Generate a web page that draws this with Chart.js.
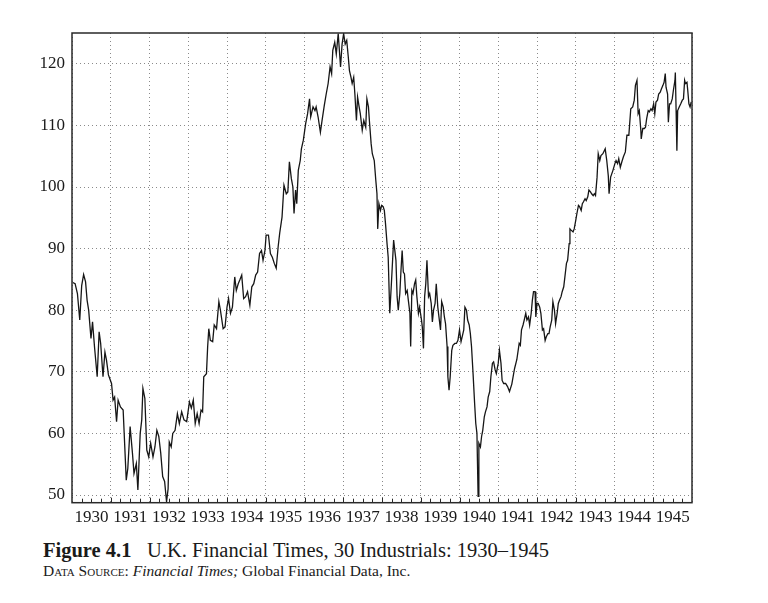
<!DOCTYPE html>
<html>
<head>
<meta charset="utf-8">
<script src="https://cdn.jsdelivr.net/npm/chart.js@4.4.1/dist/chart.umd.min.js"></script>
<style>
  body { margin: 0; background: #fff; width: 768px; height: 603px; position: relative; overflow: hidden;
         font-family: "Liberation Serif", "DejaVu Serif", serif; color: #1a1a1a; }
  #wrap { position: absolute; left: 0; top: 0; width: 768px; height: 530px; }
  .cap { position: absolute; white-space: nowrap; line-height: 1; }
  #figno { left: 43px; top: 540px; font-size: 20.5px; font-weight: bold; }
  #title { left: 147px; top: 540px; font-size: 20.5px; }
  #source { left: 43px; top: 563px; font-size: 15.5px; }
  #source .sc { font-variant: small-caps; }
</style>
</head>
<body>
<div id="wrap"><canvas id="ftChart" width="768" height="530"></canvas></div>
<div class="cap" id="figno">Figure 4.1</div>
<div class="cap" id="title">U.K. Financial Times, 30 Industrials: 1930–1945</div>
<div class="cap" id="source"><span class="sc">Data Source:</span> <i>Financial Times;</i> Global Financial Data, Inc.</div>
<script>
// decimal years and index levels
const dates = [
  1930.02, 1930.08, 1930.14, 1930.2, 1930.25, 1930.3, 1930.35, 1930.39, 1930.43, 1930.49,
  1930.53, 1930.58, 1930.65, 1930.7, 1930.74, 1930.8, 1930.85, 1930.89, 1930.94, 1931.02,
  1931.06, 1931.1, 1931.15, 1931.19, 1931.25, 1931.32, 1931.4, 1931.44, 1931.5, 1931.56,
  1931.6, 1931.66, 1931.7, 1931.76, 1931.8, 1931.83, 1931.88, 1931.93, 1931.98, 1932.03,
  1932.09, 1932.14, 1932.19, 1932.24, 1932.29, 1932.34, 1932.39, 1932.44, 1932.48, 1932.51,
  1932.56, 1932.6, 1932.66, 1932.72, 1932.77, 1932.83, 1932.89, 1932.96, 1933.03, 1933.08,
  1933.13, 1933.18, 1933.23, 1933.28, 1933.33, 1933.37, 1933.4, 1933.47, 1933.5, 1933.53,
  1933.57, 1933.63, 1933.67, 1933.73, 1933.79, 1933.83, 1933.9, 1933.95, 1934.0, 1934.04,
  1934.09, 1934.14, 1934.2, 1934.24, 1934.29, 1934.33, 1934.38, 1934.43, 1934.48, 1934.53,
  1934.59, 1934.64, 1934.69, 1934.74, 1934.79, 1934.84, 1934.89, 1934.93, 1934.98, 1935.01,
  1935.07, 1935.12, 1935.17, 1935.22, 1935.27, 1935.32, 1935.36, 1935.42, 1935.47, 1935.53,
  1935.57, 1935.61, 1935.66, 1935.7, 1935.73, 1935.77, 1935.8, 1935.84, 1935.89, 1935.92,
  1935.97, 1936.03, 1936.08, 1936.13, 1936.16, 1936.22, 1936.27, 1936.3, 1936.35, 1936.41,
  1936.46, 1936.51, 1936.56, 1936.61, 1936.66, 1936.7, 1936.73, 1936.78, 1936.82, 1936.87,
  1936.9, 1936.93, 1936.97, 1937.01, 1937.05, 1937.09, 1937.13, 1937.16, 1937.2, 1937.23,
  1937.27, 1937.3, 1937.34, 1937.37, 1937.41, 1937.44, 1937.49, 1937.53, 1937.58, 1937.61,
  1937.65, 1937.68, 1937.72, 1937.75, 1937.8, 1937.84, 1937.87, 1937.89, 1937.92, 1937.96,
  1937.99, 1938.03, 1938.06, 1938.09, 1938.13, 1938.16, 1938.2, 1938.24, 1938.3, 1938.36,
  1938.39, 1938.42, 1938.46, 1938.49, 1938.52, 1938.55, 1938.58, 1938.61, 1938.65, 1938.68,
  1938.72, 1938.74, 1938.77, 1938.8, 1938.84, 1938.87, 1938.9, 1938.94, 1938.97, 1939.02,
  1939.04, 1939.07, 1939.1, 1939.13, 1939.16, 1939.2, 1939.23, 1939.27, 1939.3, 1939.33,
  1939.37, 1939.4, 1939.44, 1939.47, 1939.51, 1939.54, 1939.58, 1939.61, 1939.64, 1939.68,
  1939.7, 1939.73, 1939.76, 1939.8, 1939.83, 1939.88, 1939.92, 1939.96, 1940.0, 1940.04,
  1940.07, 1940.11, 1940.14, 1940.18, 1940.21, 1940.25, 1940.28, 1940.31, 1940.35, 1940.39,
  1940.42, 1940.45, 1940.48, 1940.5, 1940.54, 1940.57, 1940.6, 1940.64, 1940.67, 1940.71,
  1940.74, 1940.78, 1940.81, 1940.85, 1940.88, 1940.92, 1940.95, 1941.0, 1941.03, 1941.07,
  1941.1, 1941.14, 1941.19, 1941.24, 1941.29, 1941.35, 1941.42, 1941.48, 1941.54, 1941.57,
  1941.6, 1941.64, 1941.67, 1941.71, 1941.74, 1941.78, 1941.81, 1941.85, 1941.88, 1941.91,
  1941.95, 1941.97, 1942.0, 1942.03, 1942.07, 1942.1, 1942.14, 1942.17, 1942.21, 1942.24,
  1942.28, 1942.31, 1942.34, 1942.38, 1942.41, 1942.45, 1942.48, 1942.52, 1942.55, 1942.58,
  1942.62, 1942.65, 1942.69, 1942.72, 1942.76, 1942.79, 1942.83, 1942.85, 1942.88, 1942.93,
  1942.96, 1943.0, 1943.03, 1943.07, 1943.1, 1943.14, 1943.17, 1943.2, 1943.24, 1943.27,
  1943.31, 1943.34, 1943.38, 1943.41, 1943.45, 1943.48, 1943.51, 1943.55, 1943.58, 1943.62,
  1943.65, 1943.7, 1943.76, 1943.8, 1943.84, 1943.86, 1943.9, 1943.96, 1944.01, 1944.04,
  1944.08, 1944.11, 1944.15, 1944.19, 1944.23, 1944.28, 1944.32, 1944.37, 1944.42, 1944.47,
  1944.51, 1944.54, 1944.58, 1944.61, 1944.64, 1944.68, 1944.69, 1944.73, 1944.77, 1944.8,
  1944.83, 1944.87, 1944.9, 1944.94, 1944.97, 1945.01, 1945.04, 1945.07, 1945.11, 1945.14,
  1945.18, 1945.21, 1945.25, 1945.28, 1945.31, 1945.33, 1945.37, 1945.39, 1945.42, 1945.45,
  1945.49, 1945.52, 1945.56, 1945.57, 1945.59, 1945.61, 1945.63, 1945.67, 1945.71, 1945.75,
  1945.78, 1945.81, 1945.83, 1945.87, 1945.89, 1945.92, 1945.95, 1945.98
];
const ftIndex = [
  84.5, 84.3, 82.7, 78.4, 84, 85.8, 84.6, 81.6, 80, 75.4,
  78.1, 74.1, 69.2, 76.5, 74.6, 69.2, 73.2, 71.9, 69.5, 68.1,
  65.4, 65.9, 61.9, 65.4, 64.3, 63.8, 52.4, 54.3, 61.1, 56.8,
  53.5, 55.1, 50.8, 60, 62.2, 67.3, 65.7, 57.3, 56.2, 58.4,
  56.2, 57.8, 60.5, 59.5, 56.8, 53, 52.2, 48.9, 51, 58.6,
  57.8, 60, 60.5, 63.2, 61.6, 63.5, 62.2, 61.9, 65.1, 64.1,
  65.4, 61.6, 63.2, 61.6, 63.8, 63.5, 69.2, 69.7, 74, 77,
  75.1, 74.9, 77.6, 77, 81.4, 80, 77, 77.3, 80.5, 81.9,
  79.5, 80.5, 85.4, 83.2, 84.3, 84.9, 85.7, 81.9, 82.2, 83,
  80.8, 83.8, 84.3, 85.7, 86.2, 89.2, 89.7, 88.1, 89.7, 92.2,
  92.2, 89.2, 88.6, 87.6, 86.8, 90.3, 92.5, 95.1, 100.3, 98.9,
  99.2, 104.1, 101.4, 100, 95.7, 99.5, 97.3, 102.7, 104.3, 106.2,
  107.6, 110.3, 111.9, 114.3, 111.4, 113, 112.4, 113, 111.4, 108.9,
  111.1, 113.2, 115.1, 116.8, 119.5, 118.4, 122.2, 123.5, 121.6, 124.9,
  122.2, 119.5, 123.2, 124.9, 123.2, 123.8, 121.1, 118.9, 117.8, 116.8,
  117.8, 115.1, 110.8, 114.6, 113, 111.9, 109.2, 110.8, 109.7, 114.3,
  113, 110.3, 107, 105.4, 104.3, 101.1, 98.9, 93.2, 97.3, 96.2,
  97, 96.8, 96.2, 94.1, 90.8, 88.6, 79.5, 84, 91.4, 88.1,
  82.2, 80, 82.7, 86.5, 89.7, 86.2, 85.9, 82.7, 83.2, 81.6,
  79.5, 74.1, 83.2, 82.7, 84.3, 84.9, 82.2, 79.5, 80.5, 78.4,
  77.3, 73.8, 82.2, 84.3, 88.1, 82.2, 82.7, 81.1, 78.1, 80,
  81.1, 84.3, 80.5, 78.9, 76.8, 81.4, 80.5, 78.9, 77.8, 74.1,
  69.2, 67, 69.2, 73.5, 74.3, 74.6, 74.6, 75.1, 76.8, 74.9,
  75.7, 76.8, 80.5, 80, 78.4, 77.6, 76.2, 74.1, 69.7, 64.9,
  61.6, 60, 49.8, 58.4, 57.8, 59.5, 60.5, 62.7, 63.5, 64.3,
  65.9, 66.8, 69.2, 71.4, 71.6, 70.3, 69.7, 71.4, 73.5, 71.4,
  68.6, 68.1, 68.1, 67.6, 66.8, 68, 70.5, 72, 74.6, 74.3,
  76.8, 77.6, 78.4, 79.5, 78.4, 78.9, 77.6, 79.5, 81.6, 83,
  83, 78.9, 81.1, 81.1, 80.5, 79.5, 76.8, 77, 75.1, 75.7,
  76.2, 76.2, 77.3, 78.4, 81.4, 80, 77.8, 79.5, 81.1, 81.6,
  82.2, 83, 83.8, 85.4, 87.6, 88.1, 90.8, 93.2, 93, 92.7,
  93.2, 94.6, 95.7, 97, 96.8, 96.2, 97.3, 97.6, 98.1, 97.8,
  98.4, 99.5, 99.2, 98.9, 98.6, 98.9, 98.6, 101.6, 105.4, 104.3,
  105.1, 105.4, 106.2, 104.3, 101.8, 98.9, 101.6, 102.7, 103.8, 104.3,
  103.8, 104.6, 103.2, 104.1, 104.9, 105.7, 108.4, 108.4, 112.7, 113,
  114.1, 116.5, 117.3, 111.9, 112.4, 109.2, 107.8, 109.5, 109.5, 109.7,
  111.1, 112.4, 112.2, 112.7, 112.4, 113.5, 111.9, 113.8, 114.1, 115.1,
  115.4, 115.9, 116.5, 117, 118.4, 116.2, 115.1, 110.5, 113.5, 113.5,
  114.3, 115.7, 117.3, 118.6, 112.4, 105.9, 112.4, 113, 113.5, 114.1,
  114.3, 117.3, 116.8, 117, 115.7, 113.5, 113, 113.8
];
const yearLabels = ['1930', '1931', '1932', '1933', '1934', '1935', '1936', '1937',
                    '1938', '1939', '1940', '1941', '1942', '1943', '1944', '1945'];
const yTicks = [50, 60, 70, 80, 90, 100, 110, 120];

const firstYear = 1930;
const lastYear = 1946;
const quarterTicks = [];
for (let q = firstYear * 4; q <= lastYear * 4; q++) quarterTicks.push(q / 4);

const tickFont = { family: 'Liberation Serif', size: 17 };

// frame round the plot and small quarter ticks inside the bottom edge
const framePlugin = {
  id: 'frame',
  afterDraw(chart) {
    const { ctx, chartArea: a } = chart;
    const xs = chart.scales.x;
    ctx.save();
    ctx.strokeStyle = '#2a2a2a';
    ctx.lineWidth = 1;
    ctx.beginPath();
    quarterTicks.forEach(t => {
      if (t <= firstYear || t >= lastYear) return;
      const px = Math.round(xs.getPixelForValue(t)) + 0.5;
      const len = Number.isInteger(t) ? 5 : 4;
      ctx.moveTo(px, a.bottom);
      ctx.lineTo(px, a.bottom - len);
    });
    ctx.stroke();
    ctx.lineWidth = 1.5;
    ctx.strokeRect(a.left, a.top, a.right - a.left, a.bottom - a.top);
    ctx.restore();
  }
};

const ctx = document.getElementById('ftChart').getContext('2d');
new Chart(ctx, {
  type: 'line',
  data: {
    datasets: [{
      label: 'FT 30 Industrials',
      data: dates.map((d, i) => ({ x: d, y: ftIndex[i] })),
      borderColor: '#161616',
      borderWidth: 1.3,
      pointRadius: 0,
      tension: 0,
      fill: false
    }]
  },
  options: {
    responsive: false,
    animation: false,
    layout: { padding: { top: 33, right: 76, left: 0, bottom: 0 } },
    plugins: { legend: { display: false }, tooltip: { enabled: false } },
    scales: {
      x: {
        type: 'linear',
        min: firstYear,
        max: lastYear,
        afterBuildTicks: s => { s.ticks = quarterTicks.map(v => ({ value: v })); },
        afterFit: s => { s.height = 27.3; },
        grid: {
          color: c => (c.tick && Number.isInteger(c.tick.value) ? '#8a8a8a' : 'rgba(0,0,0,0)'),
          lineWidth: 1,
          drawTicks: false
        },
        border: { display: false, dash: [1, 3] },
        ticks: {
          autoSkip: false,
          maxRotation: 0,
          minRotation: 0,
          padding: 5,
          color: '#1a1a1a',
          font: tickFont,
          callback: v => (v - Math.floor(v) === 0.5 ? yearLabels[Math.floor(v) - firstYear] : '')
        }
      },
      y: {
        min: 48.75,
        max: 125,
        afterBuildTicks: s => { s.ticks = yTicks.map(v => ({ value: v })); },
        afterFit: s => { s.width = 72; },
        grid: { color: '#8a8a8a', lineWidth: 1, drawTicks: false },
        border: { display: false, dash: [1, 3] },
        ticks: { padding: 7, color: '#1a1a1a', font: tickFont }
      }
    }
  },
  plugins: [framePlugin]
});
</script>
</body>
</html>
